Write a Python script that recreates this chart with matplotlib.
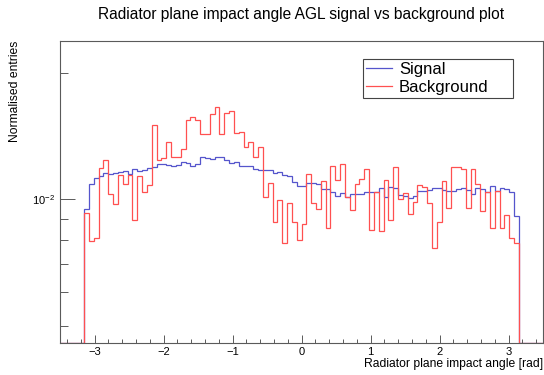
import numpy as np
import matplotlib
matplotlib.use("Agg")
import matplotlib.pyplot as plt
from matplotlib.ticker import LogLocator, NullFormatter, MultipleLocator

plt.rcParams['font.family'] = ['Liberation Sans', 'DejaVu Sans']
plt.rcParams['mathtext.default'] = 'regular'

# histogram binning: 100 bins over [-3.5, 3.5], entries only inside [-pi, pi]
n_bins = 100
x_lo, x_hi = -3.5, 3.5
n_empty = 5

signal = [
    0.00947, 0.01086, 0.01122, 0.01138, 0.01155, 0.01147, 0.01157, 0.01163, 0.01168, 0.01151,
    0.01183, 0.01166, 0.01172, 0.01189, 0.01196, 0.01213, 0.01211, 0.01207, 0.01200, 0.01207,
    0.01229, 0.01222, 0.01198, 0.01215, 0.01259, 0.01252, 0.01247, 0.01259, 0.01259, 0.01240,
    0.01222, 0.01229, 0.01200, 0.01200, 0.01200, 0.01181, 0.01176, 0.01176, 0.01176, 0.01153,
    0.01160, 0.01143, 0.01138, 0.01098, 0.01077, 0.01076, 0.01092, 0.01092, 0.01086, 0.01056,
    0.01056, 0.01043, 0.01020, 0.01037, 0.01014, 0.01028, 0.01028, 0.01028, 0.01039, 0.01039,
    0.01043, 0.01062, 0.01014, 0.01068, 0.01062, 0.01024, 0.01020, 0.01006, 0.01018, 0.01047,
    0.01047, 0.01052, 0.01062, 0.01062, 0.01052, 0.01048, 0.01047, 0.01058, 0.01066, 0.01052,
    0.01030, 0.01066, 0.01058, 0.01043, 0.01077, 0.01047, 0.01066, 0.01058, 0.01043, 0.00914,
]

background = [
    0.00926, 0.00797, 0.00808, 0.01185, 0.01238, 0.01028, 0.00974, 0.01143, 0.01086, 0.01143,
    0.00893, 0.01134, 0.01039, 0.01081, 0.01503, 0.01240, 0.01252, 0.01367, 0.01263, 0.01263,
    0.01315, 0.01545, 0.01573, 0.01545, 0.01433, 0.01430, 0.01599, 0.01659, 0.01433, 0.01605,
    0.01623, 0.01440, 0.01449, 0.01334, 0.01367, 0.01263, 0.01334, 0.01014, 0.01095, 0.00884,
    0.00996, 0.00786, 0.00978, 0.00882, 0.00800, 0.00872, 0.01147, 0.00978, 0.00947, 0.01105,
    0.00856, 0.01202, 0.01111, 0.01211, 0.01011, 0.00943, 0.01086, 0.01116, 0.01181, 0.00845,
    0.01039, 0.00840, 0.01111, 0.00893, 0.01192, 0.01002, 0.01033, 0.00921, 0.00987, 0.01081,
    0.01072, 0.00978, 0.00764, 0.00882, 0.01105, 0.00952, 0.01196, 0.01196, 0.01181, 0.00952,
    0.01181, 0.01086, 0.00939, 0.01039, 0.00856, 0.01047, 0.00856, 0.00918, 0.00810, 0.00786,
]

y_lo, y_hi = 0.004548, 0.02382

edges = np.linspace(x_lo, x_hi, n_bins + 1)
pad = np.zeros(n_empty)
sig = np.concatenate([pad, signal, pad])
bkg = np.concatenate([pad, background, pad])
# empty bins sit on the bottom of the frame, as ROOT draws them
sig = np.where(sig > 0, sig, y_lo)
bkg = np.where(bkg > 0, bkg, y_lo)

fig = plt.figure(figsize=(5.44, 3.75), dpi=100)
ax = fig.add_axes([60 / 544, 32 / 375, 483 / 544, 302 / 375])

ax.stairs(sig, edges, color='#5555cc', lw=0.9, label='Signal', baseline=None)
ax.stairs(bkg, edges, color='#ff5050', lw=0.9, label='Background', baseline=None)

ax.set_yscale('log')
ax.set_xlim(x_lo, x_hi)
ax.set_ylim(y_lo, y_hi)

ax.xaxis.set_major_locator(MultipleLocator(1))
ax.xaxis.set_minor_locator(MultipleLocator(0.2))
ax.yaxis.set_major_locator(LogLocator(base=10))
ax.yaxis.set_minor_locator(LogLocator(base=10, subs=np.arange(2, 10)))
ax.yaxis.set_minor_formatter(NullFormatter())

frame_col = '#5a5a5a'
for side in ax.spines.values():
    side.set_color(frame_col)
    side.set_linewidth(0.8)

ax.tick_params(axis='both', which='both', direction='in', color=frame_col,
               width=0.7, labelsize=8, top=False, right=False)
ax.tick_params(axis='x', which='major', length=6, pad=3)
ax.tick_params(axis='x', which='minor', length=3)
ax.tick_params(axis='y', which='major', length=11, pad=3.5)
ax.tick_params(axis='y', which='minor', length=5.5)

ax.set_xlabel('Radiator plane impact angle [rad]', fontsize=8.7, loc='right')
ax.xaxis.set_label_coords(1.0, -0.068)
ax.xaxis.label.set_va('center')
ax.set_ylabel('Normalised entries', fontsize=8.7, loc='top')
ax.yaxis.set_label_coords(-0.081, 1.0)

fig.suptitle('Radiator plane impact angle AGL signal vs background plot',
             x=0.553, y=1 - 14 / 375, va='center', fontsize=11.2)

leg = ax.legend(loc='center', bbox_to_anchor=(363 / 544, 275 / 375, 150 / 544, 43 / 375),
                bbox_transform=fig.transFigure, mode='expand', borderaxespad=0,
                fontsize=12, handlelength=1.6, handletextpad=0.4, labelspacing=0.2,
                borderpad=0.15, fancybox=False, framealpha=1)
leg.get_frame().set_edgecolor('#444444')
leg.get_frame().set_linewidth(0.8)

fig.savefig('out.png', dpi=100)
